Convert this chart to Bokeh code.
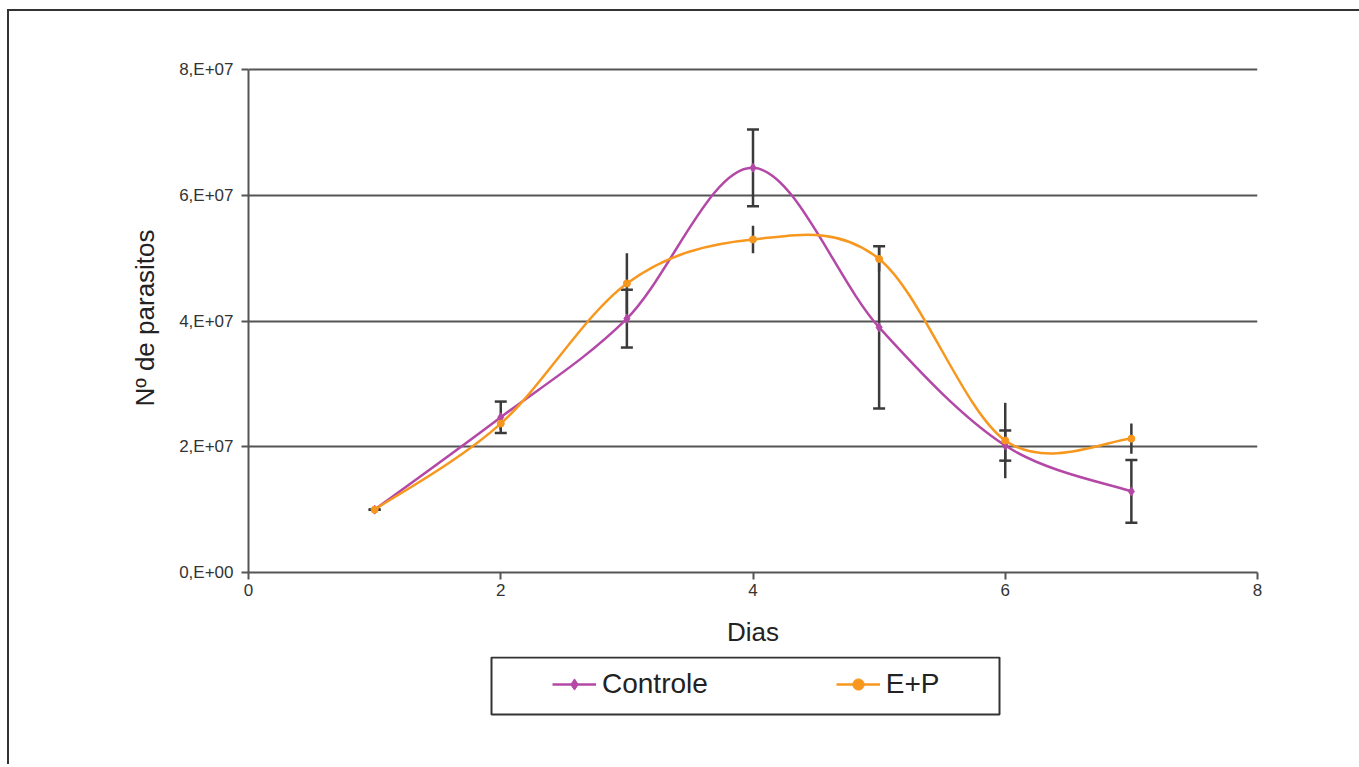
from bokeh.plotting import figure
from bokeh.layouts import column
from bokeh.models import (ColumnDataSource, FixedTicker, Whisker, Legend, LegendItem,
                          Range1d, TeeHead, BoxAnnotation)
from bokeh.embed import file_html
from bokeh.resources import INLINE

# ---------------- data ----------------
dias = [1, 2, 3, 4, 5, 6, 7]
controle = [1.0e7, 2.47e7, 4.04e7, 6.44e7, 3.90e7, 2.02e7, 1.29e7]
controle_err = [0.0, 0.25e7, 0.46e7, 0.61e7, 1.29e7, 0.24e7, 0.50e7]
ep = [1.0e7, 2.37e7, 4.60e7, 5.30e7, 4.99e7, 2.10e7, 2.13e7]
ep_err = [0.0, 0.10e7, 0.48e7, 0.22e7, 0.20e7, 0.60e7, 0.24e7]
x_ticks = [0, 2, 4, 6, 8]
y_ticks = [0, 2e7, 4e7, 6e7, 8e7]
y_tick_labels = ["0,E+00", "2,E+07", "4,E+07", "6,E+07", "8,E+07"]
series_names = ["Controle", "E+P"]

PURPLE = "#B448A6"
ORANGE = "#F7971E"
GRID = "#555555"
ERR = "#3a3a3a"
TXT = "#333333"
FONT = "Liberation Sans"


def smooth_segments(xs, ys):
    """Excel-style smoothed line: cubic Bezier control points (Catmull-Rom, 1/6)."""
    n = len(xs)
    d = dict(x0=[], y0=[], x1=[], y1=[], cx0=[], cy0=[], cx1=[], cy1=[])
    for i in range(n - 1):
        p0 = (xs[max(i - 1, 0)], ys[max(i - 1, 0)])
        p1 = (xs[i], ys[i])
        p2 = (xs[i + 1], ys[i + 1])
        p3 = (xs[min(i + 2, n - 1)], ys[min(i + 2, n - 1)])
        d["x0"].append(p1[0]); d["y0"].append(p1[1])
        d["x1"].append(p2[0]); d["y1"].append(p2[1])
        d["cx0"].append(p1[0] + (p2[0] - p0[0]) / 6.0)
        d["cy0"].append(p1[1] + (p2[1] - p0[1]) / 6.0)
        d["cx1"].append(p2[0] - (p3[0] - p1[0]) / 6.0)
        d["cy1"].append(p2[1] - (p3[1] - p1[1]) / 6.0)
    return ColumnDataSource(d)


p = figure(width=1350, height=645, output_backend="svg", toolbar_location=None,
           x_range=Range1d(0, 8), y_range=Range1d(0, 8.1e7),
           min_border_left=239, min_border_right=102, min_border_top=52, min_border_bottom=84)
p.outline_line_color = None
p.background_fill_color = "white"
p.border_fill_color = "white"

# axes
p.xaxis.ticker = FixedTicker(ticks=x_ticks)
p.yaxis.ticker = FixedTicker(ticks=y_ticks)
p.yaxis.bounds = (y_ticks[0], y_ticks[-1])
p.yaxis.major_label_overrides = {t: l for t, l in zip(y_ticks, y_tick_labels)}
p.xaxis.axis_label = "Dias"
p.yaxis.axis_label = "Nº de parasitos"
for ax in (p.xaxis, p.yaxis):
    ax.axis_line_color = GRID
    ax.axis_line_width = 2
    ax.major_tick_line_color = GRID
    ax.major_tick_line_width = 2
    ax.major_tick_out = 7
    ax.major_tick_in = 0
    ax.minor_tick_line_color = None
    ax.major_label_text_font = FONT
    ax.major_label_text_font_size = "17px"
    ax.major_label_text_color = TXT
    ax.axis_label_text_font = FONT
    ax.axis_label_text_font_size = "26px"
    ax.axis_label_text_font_style = "normal"
    ax.axis_label_text_color = "#222222"
p.yaxis.major_label_standoff = 8
p.yaxis.axis_label_standoff = 16
p.xaxis.major_label_standoff = 4
p.xaxis.axis_label_standoff = 18

p.xgrid.grid_line_color = None
p.ygrid.ticker = FixedTicker(ticks=y_ticks)
p.ygrid.grid_line_color = GRID
p.ygrid.grid_line_width = 2

# error bars (E+P: no caps)
src_c = ColumnDataSource(dict(x=dias, y=controle,
                              lo=[v - e for v, e in zip(controle, controle_err)],
                              hi=[v + e for v, e in zip(controle, controle_err)]))
src_e = ColumnDataSource(dict(x=dias, y=ep,
                              lo=[v - e for v, e in zip(ep, ep_err)],
                              hi=[v + e for v, e in zip(ep, ep_err)]))
w_e = Whisker(source=src_e, base="x", lower="lo", upper="hi",
              line_color=ERR, line_width=2.5, upper_head=None, lower_head=None)
p.add_layout(w_e)

# smoothed curves with markers
p.bezier("x0", "y0", "x1", "y1", "cx0", "cy0", "cx1", "cy1",
         source=smooth_segments(dias, controle), line_color=PURPLE, line_width=2.5)
p.scatter("x", "y", source=src_c, marker="diamond", size=9,
          fill_color=PURPLE, line_color=PURPLE)
p.bezier("x0", "y0", "x1", "y1", "cx0", "cy0", "cx1", "cy1",
         source=smooth_segments(dias, ep), line_color=ORANGE, line_width=2.5)
p.scatter("x", "y", source=src_e, marker="circle", size=7,
          fill_color=ORANGE, line_color=ORANGE)

# error bars (Controle: with caps)
w_c = Whisker(source=src_c, base="x", lower="lo", upper="hi",
              line_color=ERR, line_width=2.5,
              upper_head=TeeHead(size=12, line_color=ERR, line_width=2.5),
              lower_head=TeeHead(size=12, line_color=ERR, line_width=2.5))
p.add_layout(w_c)

# ---------------- legend strip (separate figure, same frame width) ----------------
LG_H = 70
lg = figure(width=1350, height=LG_H, output_backend="svg", toolbar_location=None,
            x_range=Range1d(0, 1009), y_range=Range1d(0, LG_H),
            x_axis_type=None, y_axis_type=None,
            min_border_left=239, min_border_right=102, min_border_top=0, min_border_bottom=0)
lg.outline_line_color = None
lg.background_fill_color = "white"
lg.border_fill_color = "white"
lg.margin = (0, 0, 38, 0)

# legend sample renderers (out of the strip's view, used only for the legend glyphs)
l_c_line = lg.line(dias, controle, line_color=PURPLE, line_width=2.5)
l_c_mark = lg.scatter(dias, controle, marker="diamond", size=8,
                      fill_color=PURPLE, line_color=PURPLE)
l_e_line = lg.line(dias, ep, line_color=ORANGE, line_width=2.5)
l_e_mark = lg.scatter(dias, ep, marker="circle", size=8,
                      fill_color=ORANGE, line_color=ORANGE)

legend_frame = BoxAnnotation(left=243, right=751, top=69, bottom=12,
                             fill_alpha=0, line_color="#333333", line_alpha=1.0, line_width=2,
                             editable=False)
lg.add_layout(legend_frame)

legend = Legend(items=[LegendItem(label=series_names[0], renderers=[l_c_line, l_c_mark]),
                       LegendItem(label=series_names[1], renderers=[l_e_line, l_e_mark])],
                orientation="horizontal", location=(304, 26),
                padding=0, margin=0, spacing=128, glyph_width=44, glyph_height=28,
                label_width=102, label_height=28, label_standoff=6,
                label_text_font=FONT, label_text_font_size="28px", label_text_color="#222222",
                border_line_color=None, background_fill_alpha=0)
lg.add_layout(legend, "center")

layout = column(p, lg, spacing=0)
layout.margin = (9, 0, 0, 7)
layout.styles = {"border-top": "2px solid #333333", "border-left": "2px solid #333333"}

open("out.html", "w").write(file_html(layout, INLINE))
